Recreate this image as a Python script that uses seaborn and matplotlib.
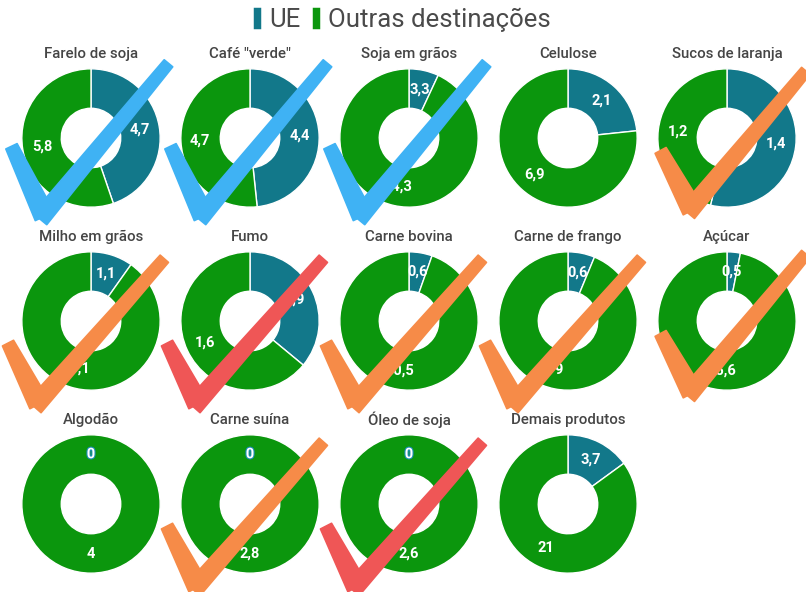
import numpy as np
import matplotlib
matplotlib.use("Agg")
import matplotlib.pyplot as plt
import matplotlib.patheffects as pe
from matplotlib.patches import Patch, Polygon
import seaborn as sns

# Exportações por produto (US$ bilhões): União Europeia x outras destinações
produtos = [
    "Farelo de soja", 'Café "verde"', "Soja em grãos", "Celulose", "Sucos de laranja",
    "Milho em grãos", "Fumo", "Carne bovina", "Carne de frango", "Açúcar",
    "Algodão", "Carne suína", "Óleo de soja", "Demais produtos",
]
ue = [4.7, 4.4, 3.3, 2.1, 1.4, 1.1, 0.9, 0.6, 0.6, 0.5, 0, 0, 0, 3.7]
outras = [5.8, 4.7, 44.3, 6.9, 1.2, 10.1, 1.6, 10.5, 9, 15.6, 4, 2.8, 2.6, 21]
selo = ["azul", "azul", "azul", None, "laranja",
        "laranja", "vermelho", "laranja", "laranja", "laranja",
        None, "laranja", "vermelho", None]
series = ["UE", "Outras destinações"]

sns.set_theme(style="white")
plt.rcParams["font.family"] = ["Roboto", "DejaVu Sans"]

cores = sns.color_palette(["#12788a", "#0b960d"])
cores_selo = {"azul": "#3fb2f4", "laranja": "#f68b48", "vermelho": "#ef5656"}
cinza = "#454545"

W, H = 806, 592
fig = plt.figure(figsize=(W / 100, H / 100), dpi=100)
fig.patch.set_facecolor("white")

R = 66.5            # raio do anel em pixels
LIM = 1.3
col_x = [91, 250, 409, 568, 727]
row_y = [138, 321, 504]


def fmt(v):
    if float(v).is_integer():
        return str(int(v))
    return f"{v:.1f}".replace(".", ",")


def stroke(p0, p1, w0, w1):
    p0, p1 = np.asarray(p0, float), np.asarray(p1, float)
    d = (p1 - p0) / np.linalg.norm(p1 - p0)
    n = np.array([-d[1], d[0]])
    return [p0 + n * w0 / 2, p1 + n * w1 / 2, p1 - n * w1 / 2, p0 - n * w0 / 2]


def check(ax, color, shape):
    L, B, T = shape
    Bx = (B[0] + 0.05, B[1] + 0.02)
    arm1 = stroke(L, Bx, 0.18, 0.30)
    arm2 = stroke((B[0] - 0.02, B[1] - 0.02), T, 0.26, 0.16)
    for pts in (arm1, arm2):
        ax.add_patch(Polygon(pts, closed=True, facecolor=color, edgecolor=color,
                             linewidth=1.2, joinstyle="round", clip_on=False, zorder=10))


shape_row1 = ((-1.15, -0.12), (-0.72, -1.15), (1.12, 1.08))
shape_rows = ((-1.2, -0.32), (-0.8, -1.22), (1.06, 0.9))
shape_last = ((-0.96, -0.18), (-0.55, -1.06), (1.14, 0.97))

for i, nome in enumerate(produtos):
    r, c = divmod(i, 5)
    cx, cy = col_x[c], row_y[r]
    h = LIM * R
    ax = fig.add_axes([(cx - h) / W, 1 - (cy + h) / H, 2 * h / W, 2 * h / H])
    ax.set_xlim(-LIM, LIM)
    ax.set_ylim(-LIM, LIM)
    ax.axis("off")

    vals = [ue[i], outras[i]]
    wedges, _ = ax.pie(vals, colors=cores, startangle=90, counterclock=False,
                       radius=1, wedgeprops=dict(width=0.57, edgecolor="white", linewidth=1))

    for w, v in zip(wedges, vals):
        ang = np.deg2rad((w.theta1 + w.theta2) / 2)
        x, y = 0.72 * np.cos(ang), 0.72 * np.sin(ang)
        if v == 0:
            ax.text(x, y, fmt(v), ha="center", va="center", color="white",
                    fontsize=10.5, fontweight="bold", zorder=5,
                    path_effects=[pe.withStroke(linewidth=1.6, foreground="#1e8fb8")])
        else:
            ax.text(x, y, fmt(v), ha="center", va="center", color="white",
                    fontsize=10.5, fontweight="bold", zorder=5)

    ax.text(0, 1.22, nome, ha="center", va="center", color=cinza,
            fontsize=10.8, fontweight="medium")

    if selo[i]:
        if r == 0 and c < 4:
            shp = shape_row1
        elif c == 4:
            shp = shape_last
        else:
            shp = shape_rows
        check(ax, cores_selo[selo[i]], shp)

handles = [Patch(facecolor=cores[k], edgecolor=cores[k], linewidth=2.5,
                 joinstyle="round", label=series[k]) for k in range(2)]
fig.legend(handles=handles, loc="upper center", bbox_to_anchor=(0.5, 1.018), ncol=2,
           frameon=False, fontsize=18.5, handlelength=0.16, handleheight=0.7,
           handletextpad=0.4, columnspacing=0.5, labelcolor="#4a4a4a", borderpad=0.2)

fig.savefig("out.png", dpi=100, facecolor="white")
